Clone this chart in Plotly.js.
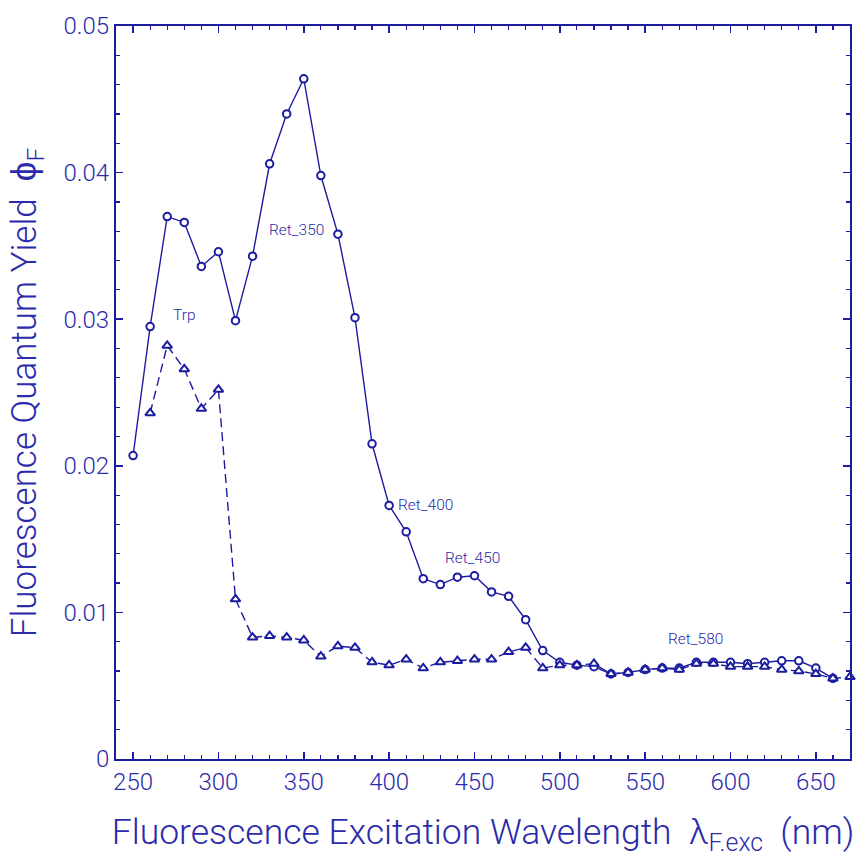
<!DOCTYPE html>
<html>
<head>
<meta charset="utf-8">
<script src="https://cdn.plot.ly/plotly-3.0.1.min.js"></script>
<style>
  html, body { margin: 0; padding: 0; background: #ffffff; }
  #chart { width: 860px; height: 857px; }
</style>
</head>
<body>
<div id="chart"></div>
<script>
// Excitation wavelengths (nm)
const wavelengthRet = [250, 260, 270, 280, 290, 300, 310, 320, 330, 340, 350, 360, 370, 380, 390,
  400, 410, 420, 430, 440, 450, 460, 470, 480, 490, 500, 510, 520, 530, 540, 550, 560, 570,
  580, 590, 600, 610, 620, 630, 640, 650, 660];
const wavelengthTrp = [260, 270, 280, 290, 300, 310, 320, 330, 340, 350, 360, 370, 380, 390,
  400, 410, 420, 430, 440, 450, 460, 470, 480, 490, 500, 510, 520, 530, 540, 550, 560, 570,
  580, 590, 600, 610, 620, 630, 640, 650, 660, 670];

// Fluorescence quantum yields
const yieldRet = [0.0207, 0.0295, 0.0370, 0.0366, 0.0336, 0.0346, 0.0299, 0.0343, 0.0406, 0.0440,
  0.0464, 0.0398, 0.0358, 0.0301, 0.0215, 0.0173, 0.0155, 0.0123, 0.0119, 0.0124, 0.0125,
  0.0114, 0.0111, 0.0095, 0.0074, 0.0066, 0.0064, 0.0063, 0.0058, 0.0059, 0.0061, 0.0062,
  0.0062, 0.0066, 0.0066, 0.0066, 0.0065, 0.0066, 0.0067, 0.0067, 0.0062, 0.0055];
const yieldTrp = [0.0236, 0.0282, 0.0266, 0.0239, 0.0252, 0.0109, 0.0083, 0.0084, 0.0083, 0.0081,
  0.0070, 0.0077, 0.0076, 0.0066, 0.0064, 0.0068, 0.0062, 0.0066, 0.0067, 0.0068, 0.0068,
  0.0073, 0.0076, 0.0062, 0.0064, 0.0064, 0.0065, 0.0058, 0.0059, 0.0061, 0.0062, 0.0061,
  0.0065, 0.0065, 0.0063, 0.0063, 0.0063, 0.0061, 0.0060, 0.0058, 0.0055, 0.0056];

// Curve labels and their anchor positions (wavelength, yield)
const labelText = ["Ret_350", "Trp", "Ret_400", "Ret_450", "Ret_580"];
const labelX = [345.8, 280.3, 421.3, 448.8, 579.7];
const labelY = [0.0361, 0.0303, 0.0173, 0.0137, 0.0082];

const ink = "#1c1ca0";
const textInk = "#2b2bab";
const fontFamily = "Roboto, 'Liberation Sans', sans-serif";

const traces = [
  {
    x: wavelengthRet, y: yieldRet, type: "scatter", mode: "lines+markers",
    line: { color: ink, width: 1.4 },
    marker: { symbol: "circle", size: 7.5, color: "#ffffff", line: { color: ink, width: 2 } },
    hoverinfo: "x+y", name: "Ret"
  },
  {
    x: wavelengthTrp, y: yieldTrp, type: "scatter", mode: "lines+markers",
    line: { color: ink, width: 1.4, dash: "9px,5px" },
    marker: { symbol: "triangle-up", size: 8.5, color: "#ffffff", line: { color: ink, width: 2 } },
    hoverinfo: "x+y", name: "Trp", cliponaxis: false
  }
];

const annotations = labelText.map((t, i) => ({
  x: labelX[i], y: labelY[i], xref: "x", yref: "y", text: t, showarrow: false,
  font: { family: fontFamily, size: 15.5, color: textInk, weight: 300 }
}));

const axisCommon = {
  showgrid: false, zeroline: false, showline: true, linecolor: ink, linewidth: 2,
  mirror: "ticks", ticks: "inside", ticklen: 7, tickwidth: 1.5, tickcolor: ink,
  tickfont: { family: fontFamily, size: 24, color: textInk, weight: 300 },
  automargin: false
};

const layout = {
  width: 860, height: 857,
  margin: { l: 116, r: 10, t: 26, b: 98 },
  paper_bgcolor: "#ffffff", plot_bgcolor: "#ffffff",
  showlegend: false,
  xaxis: Object.assign({}, axisCommon, {
    range: [240, 670], tick0: 250, dtick: 50,
    minor: { dtick: 10, ticks: "inside", ticklen: 4, tickwidth: 1.2, tickcolor: ink },
    title: {
      text: "Fluorescence Excitation Wavelength  λ<sub>F.exc</sub>  (nm)",
      font: { family: fontFamily, size: 35.5, color: textInk, weight: 300 },
      standoff: 28
    }
  }),
  yaxis: Object.assign({}, axisCommon, {
    range: [0, 0.05], tick0: 0, dtick: 0.01,
    minor: { dtick: 0.002, ticks: "inside", ticklen: 4, tickwidth: 1.2, tickcolor: ink },
    title: {
      text: "Fluorescence Quantum Yield  ϕ<sub>F</sub>",
      font: { family: fontFamily, size: 35, color: textInk, weight: 300 },
      standoff: 16
    }
  }),
  annotations: annotations
};

Plotly.newPlot("chart", traces, layout, { displayModeBar: false, staticPlot: true });
</script>
</body>
</html>
